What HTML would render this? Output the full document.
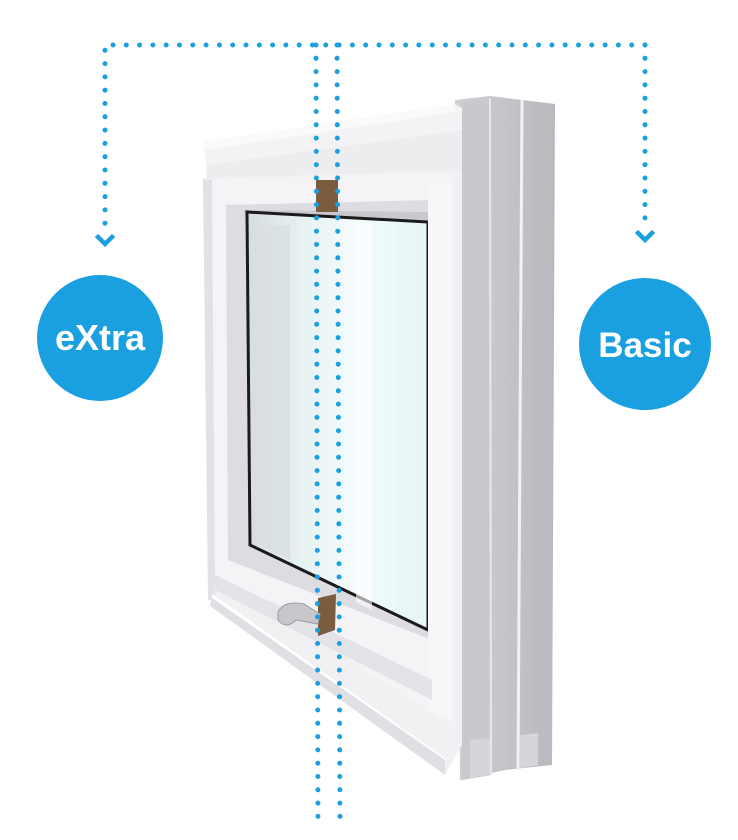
<!DOCTYPE html>
<html><head><meta charset="utf-8"><style>
html,body{margin:0;padding:0;background:#fff;}
svg{display:block;}
</style></head><body>
<svg width="738" height="840" viewBox="0 0 738 840" xmlns="http://www.w3.org/2000/svg">
<defs>
<linearGradient id="glass" x1="0" x2="1" y1="0" y2="0">
<stop offset="0" stop-color="#d7dcdf"/>
<stop offset="0.3" stop-color="#e6f1f2"/>
<stop offset="0.6" stop-color="#f4fcfd"/>
<stop offset="1" stop-color="#e4f4f6"/>
</linearGradient>
<linearGradient id="side" x1="0" x2="1">
<stop offset="0" stop-color="#d0cfd4"/>
<stop offset="1" stop-color="#b9b8be"/>
</linearGradient>
</defs>
<polygon points="455,100 490,96 555,104 552,765 505,770 460,780" fill="url(#side)"/>
<polygon points="462,102 490,98 492,775 462,780" fill="#c9c8cd"/>
<line x1="522" y1="100" x2="518" y2="770" stroke="#f2f2f4" stroke-width="3"/>
<line x1="490" y1="98" x2="491" y2="775" stroke="#e8e8ea" stroke-width="2"/>
<polygon points="470,740 490,738 490,775 470,778" fill="#d6d5da"/>
<polygon points="520,735 538,733 538,765 520,768" fill="#d6d5da"/>
<polygon points="203,142 455,104 462,108 462,130 206,165" fill="#f3f3f5"/>
<polygon points="203,142 455,104 456,112 205,150" fill="#fafafb"/>
<polygon points="206,165 462,130 462,175 207,182" fill="#ededf0"/>
<polygon points="203,178 462,170 462,745 445,775 210,600" fill="#f1f1f4"/>
<polygon points="203,180 212,180 215,600 208,600" fill="#e2e2e6"/>
<polygon points="212,180 452,172 452,725 215,575" fill="#f4f4f7"/>
<polygon points="226,205 432,200 432,640 228,560" fill="#dcdce1"/>
<polygon points="244,210 430,212 430,228 246,222" fill="#c8c8cd"/>
<polygon points="247,212 428,222 428,630 250,545" fill="url(#glass)"/>
<polygon points="247,212 428,222 428,630 250,545" fill="none" stroke="#1b1b1b" stroke-width="3"/>
<polygon points="252,225 290,225 290,560 254,542" fill="#d9dee0" opacity="0.7"/>
<polygon points="356,222 372,224 372,610 356,602" fill="#ffffff" opacity="0.6"/>
<polygon points="428,186 452,184 452,720 428,712" fill="#f7f7f9"/>
<polygon points="215,575 432,680 432,700 215,590" fill="#e4e4e8"/>
<polygon points="212,596 445,760 445,775 210,606" fill="#e0e0e4"/>
<polygon points="212,594 445,758 448,762 212,598" fill="#ffffff"/>
<polygon points="316,180 338,180 338,212 316,212" fill="#7a5c3f"/>
<polygon points="318,598 336,594 335,630 318,636" fill="#7a5c3f"/>
<path d="M278,612 q6,-12 26,-8 l16,10 l-2,10 l-22,-4 q-10,10 -18,0 z" fill="#c7c7cc" stroke="#9a9aa0" stroke-width="1"/>
<g fill="none" stroke="#1aa0e0" stroke-width="5" stroke-linecap="round" stroke-dasharray="0 13.3">
<path d="M645,45 H105 V232"/>
<path d="M645,45 V226"/>
<path d="M316,45 L318,825"/>
<path d="M337,45 L340,825"/>
</g>
<g fill="none" stroke="#1aa0e0" stroke-width="4.5" stroke-linecap="square">
<polyline points="98,237 105,244 112,237"/>
<polyline points="638,233 645,240 652,233"/>
</g>
<circle cx="100" cy="338" r="63" fill="#1aa0e0"/>
<text x="100" y="350" text-anchor="middle" font-family="Liberation Sans, sans-serif" font-weight="bold" font-size="36" fill="#fff">eXtra</text>
<circle cx="645" cy="344" r="66" fill="#1aa0e0"/>
<text x="645" y="357" text-anchor="middle" font-family="Liberation Sans, sans-serif" font-weight="bold" font-size="35" fill="#fff">Basic</text>
</svg>
</body></html>
